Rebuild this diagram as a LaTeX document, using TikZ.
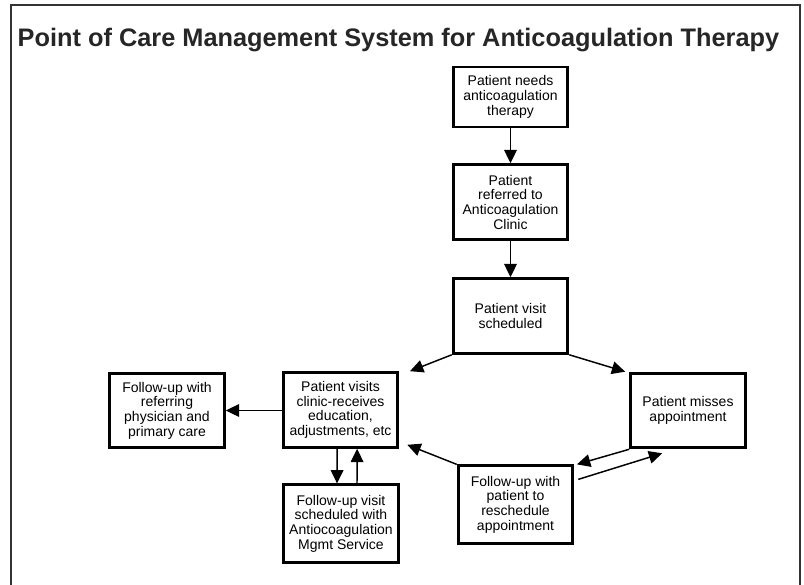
\documentclass[tikz,border=0pt]{standalone}
\usepackage{fontspec}
\setmainfont{Liberation Sans}
\usetikzlibrary{arrows.meta}
\definecolor{framegray}{HTML}{333333}

\begin{document}
\begin{tikzpicture}[
  x=0.75pt, y=-0.75pt,
  box/.style={draw,line width=2.2pt,align=center,inner sep=2pt,minimum width=86pt,minimum height=56pt,font=\fontsize{10.5}{11}\selectfont},
  flow/.style={line width=1.1pt,-{Triangle[length=10pt,width=9.5pt]}}
]
  \useasboundingbox (0,0) rectangle (804,585);
  \draw[framegray,line width=1.6pt] (11,600) -- (11,5) -- (800,5) -- (800,600);
  \node[anchor=base,font=\fontsize{19}{22}\selectfont\bfseries,text=black!85] (title) at (398.5,47) {Point of Care Management System for Anticoagulation Therapy};

  \node[box,minimum height=45pt] (need) at (510.5,97) {Patient needs\\anticoagulation\\therapy};
  \node[box] (referred) at (510.5,202) {Patient\\referred to\\Anticoagulation\\Clinic};
  \node[box] (sched) at (510.5,316) {Patient visit\\scheduled};
  \node[box] (visits) at (340.5,410) {Patient visits\\clinic-receives\\education,\\adjustments, etc};
  \node[box] (physician) at (167,410.5) {Follow-up with\\referring\\physician and\\primary care};
  \node[box,minimum height=58pt] (mgmt) at (341,523.5) {Follow-up visit\\scheduled with\\Antiocoagulation\\Mgmt Service};
  \node[box] (misses) at (688,410.5) {Patient misses\\appointment};
  \node[box,minimum height=58pt] (resched) at (515.5,504.5) {Follow-up with\\patient to\\reschedule\\appointment};

  \draw[flow] (need) -- (referred);
  \draw[flow] (referred) -- (sched);
  \draw[flow] (sched.south west) -- ([xshift=8]visits.north east);
  \draw[flow] (sched.south east) -- ([xshift=-3]misses.north west);
  \draw[flow] (visits.west |- physician.east) -- (physician.east);
  \draw[flow] ([xshift=-2.5]visits.south) -- ([xshift=-3]mgmt.north);
  \draw[flow] ([xshift=12]mgmt.north) -- ([xshift=12.5]visits.south);
  \draw[flow] (resched.north west) -- ([shift={(8,-4)}]visits.south east);
  \draw[flow] (misses.south west) -- ([xshift=2]resched.north east);
  \draw[flow] ([shift={(4,15)}]resched.north east) -- ([shift={(33,4)}]misses.south west);
\end{tikzpicture}
\end{document}
